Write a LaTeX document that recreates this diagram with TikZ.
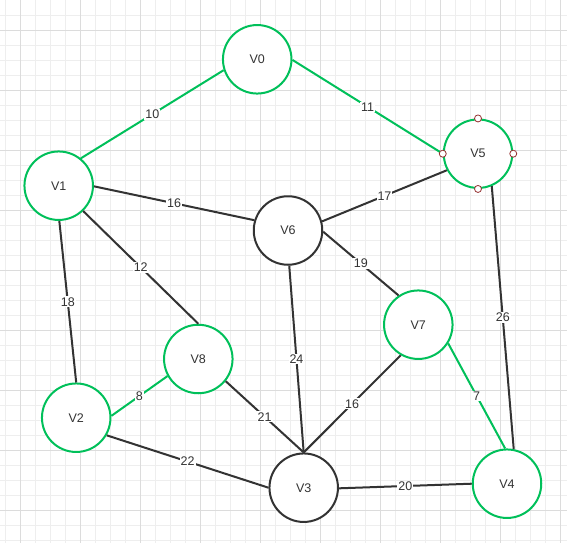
\documentclass[tikz,border=0pt]{standalone}
\usepackage{fontspec}
\setmainfont{Liberation Sans}
\definecolor{gg}{RGB}{0,192,90}
\definecolor{dk}{RGB}{51,51,51}
\definecolor{gmin}{RGB}{238,238,238}
\definecolor{gmaj}{RGB}{220,220,220}
\definecolor{hdl}{RGB}{150,50,50}
\begin{document}
\begin{tikzpicture}[x=1pt,y=-1pt,
  vert/.style={circle,draw=#1,line width=2pt,fill=white,minimum size=68.5pt,inner sep=0pt,
    text=dk,font=\fontsize{12.5}{15}\selectfont},
  vert/.default=dk,
  gl/.style={draw=gg,line width=2pt},
  dl/.style={draw=dk,line width=2pt},
  lbl/.style={fill=white,inner sep=1pt,text=dk,font=\fontsize{12.5}{15}\selectfont},
  handle/.style={circle,draw=hdl,fill=white,line width=0.8pt,minimum size=7pt,inner sep=0pt}]
\useasboundingbox (0,0) rectangle (567,543);
\fill[white] (0,0) rectangle (567,543);
% grid
\foreach \x in {5,20,...,567} \draw[gmin,line width=0.8pt] (\x,0) -- (\x,543);
\foreach \y in {15,30,...,543} \draw[gmin,line width=0.8pt] (0,\y) -- (567,\y);
\foreach \x in {20,80,...,567} \draw[gmaj,line width=0.8pt] (\x,0) -- (\x,543);
\foreach \y in {30,90,...,543} \draw[gmaj,line width=0.8pt] (0,\y) -- (567,\y);
% vertices
\node[vert=gg] (v0) at (257.2,59.3) {V0};
\node[vert=gg] (v1) at (58.7,185.7) {V1};
\node[vert=gg] (v2) at (76.2,417.7) {V2};
\node[vert]    (v3) at (303.7,487.7) {V3};
\node[vert=gg] (v4) at (507,483.7) {V4};
\node[vert=gg] (v5) at (478,153.7) {V5};
\node[vert]    (v6) at (288,230.5) {V6};
\node[vert=gg] (v7) at (418.3,324.7) {V7};
\node[vert=gg] (v8) at (198.3,359) {V8};
% edges
\draw[gl] (v1.51) -- node[lbl]{10} (v0.198.7);
\draw[gl] (v0.-1) -- node[lbl]{11} (v5.180);
\draw[dl] (v1.-1) -- node[lbl]{16} (v6.163);
\draw[dl] (v1.-46.6) -- node[lbl]{12} (v8.90);
\draw[dl] (v1.-89) -- node[lbl]{18} (v2.90);
\draw[gl] (v2.3) -- node[lbl]{8} (v8.209);
\draw[dl] (v2.-30.5) -- node[lbl]{22} (v3.180);
\draw[dl] (v8.-39.3) -- node[lbl]{21} (v3.90);
\draw[dl] (v6.-88) -- node[lbl]{24} (v3.90);
\draw[dl] (v7.240.6) -- node[lbl]{16} (v3.90);
\draw[dl] (v6.-2) -- node[lbl]{19} (v7.124);
\draw[dl] (v6.15.3) -- node[lbl]{17} (v5.208.5);
\draw[dl] (v5.-67) -- node[lbl]{26} (v4.79.6);
\draw[gl] (v7.-32.3) -- node[lbl]{7} (v4.93);
\draw[dl] (v3.-1) -- node[lbl]{20} (v4.180);
% selection handles on V5
\node[handle] (h1) at (v5.north) {};
\node[handle] (h2) at (v5.south) {};
\node[handle] (h3) at (v5.west) {};
\node[handle] (h4) at (v5.east) {};
\end{tikzpicture}
\end{document}
